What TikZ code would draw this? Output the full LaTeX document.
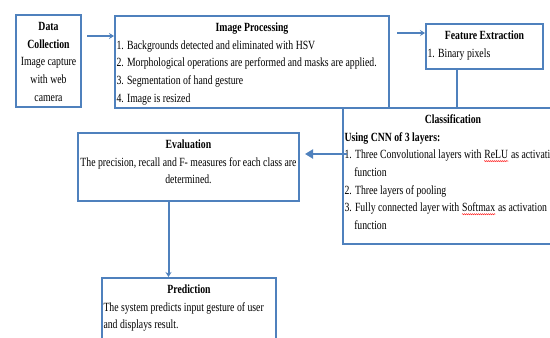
\documentclass[tikz,border=0pt]{standalone}
\usepackage{fontspec}
\setmainfont[FakeStretch=0.78]{Liberation Serif}
\usepackage{xcolor}
\usetikzlibrary{arrows.meta,positioning,calc,decorations.pathmorphing}
\definecolor{boxblue}{RGB}{79,129,189}
\newcommand{\spellwave}[1]{\tikz[baseline=(sw.base)]{\node[inner sep=0pt] (sw) {#1};
    \draw[red, line width=0.4pt, decorate, decoration={snake, amplitude=0.6pt, segment length=2pt}] ([yshift=-2pt]sw.south west) -- ([yshift=-2pt]sw.south east);}}
\newcommand{\boxtext}[3]{\parbox[t][#2][t]{#1}{\strut #3}}

\begin{document}
\begin{tikzpicture}[x=1pt, y=-1pt,
    box/.style={draw=boxblue, line width=2pt, rectangle, anchor=north west, inner xsep=1.5pt, inner ysep=3pt, font=\fontsize{12.5}{17.7}\selectfont},
    arrow/.style={-{Stealth[length=5pt,width=6pt]}, draw=boxblue, line width=2.5pt},
    link/.style={draw=boxblue, line width=2pt}
]
    \useasboundingbox (0,0) rectangle (550,338);
    \clip (0,0) rectangle (550,338);

    % Stages
    \node[box] (data_collection) at (15,14) {\boxtext{62pt}{86pt}{\centering\textbf{Data}\\ \textbf{Collection}\\ Image capture\\ with web\\ camera}};
    \node[box] (image_proc) at (114,15) {\boxtext{271pt}{86pt}{\centering\textbf{Image Processing}\par\raggedright
        1. Backgrounds detected and eliminated with HSV\\
        2. Morphological operations are performed and masks are applied.\\
        3. Segmentation of hand gesture\\
        4. Image is resized}};
    \node[box] (feature_ext) at (425,23) {\boxtext{114pt}{39pt}{\centering\textbf{Feature Extraction}\par\raggedright 1. Binary pixels}};
    \node[box] (classification) at (342,107) {\boxtext{217pt}{130pt}{\centering\textbf{Classification}\par\raggedright
        \textbf{Using CNN of 3 layers:}\\
        \mbox{1. Three Convolutional layers with \spellwave{ReLU} as activation}\\
        \phantom{1.~}function\\
        2. Three layers of pooling\\
        \mbox{3. Fully connected layer with \spellwave{Softmax} as activation}\\
        \phantom{1.~}function}};
    \node[box] (evaluation) at (77,132) {\boxtext{218pt}{62pt}{\centering\textbf{Evaluation}\\
        \mbox{The precision, recall and F- measures for each class are}\\
        determined.}};
    \node[box] (prediction) at (101,277) {\boxtext{171pt}{62pt}{\centering\textbf{Prediction}\par\raggedright
        The system predicts input gesture of user\\
        and displays result.}};

    % Arrows
    \coordinate (dc_out) at ([xshift=5pt,yshift=25pt]data_collection.east);
    \draw[arrow] (dc_out) -- (dc_out -| image_proc.west);
    \coordinate (ip_out) at ([xshift=7pt,yshift=29pt]image_proc.east);
    \draw[arrow] (ip_out) -- (ip_out -| feature_ext.west);
    \coordinate (fe_out) at ([xshift=-28pt]feature_ext.south);
    \draw[link] (fe_out) -- (fe_out |- classification.north);
    \coordinate (ev_in) at ([xshift=5pt,yshift=13pt]evaluation.east);
    \draw[arrow, -{Triangle[length=8pt,width=9pt]}] ($(ev_in -| classification.west)+(5,0)$) -- (ev_in);
    \coordinate (ev_out) at ([xshift=-20pt]evaluation.south);
    \draw[arrow, line width=2pt] (ev_out) -- (ev_out |- prediction.north);
\end{tikzpicture}
\end{document}
